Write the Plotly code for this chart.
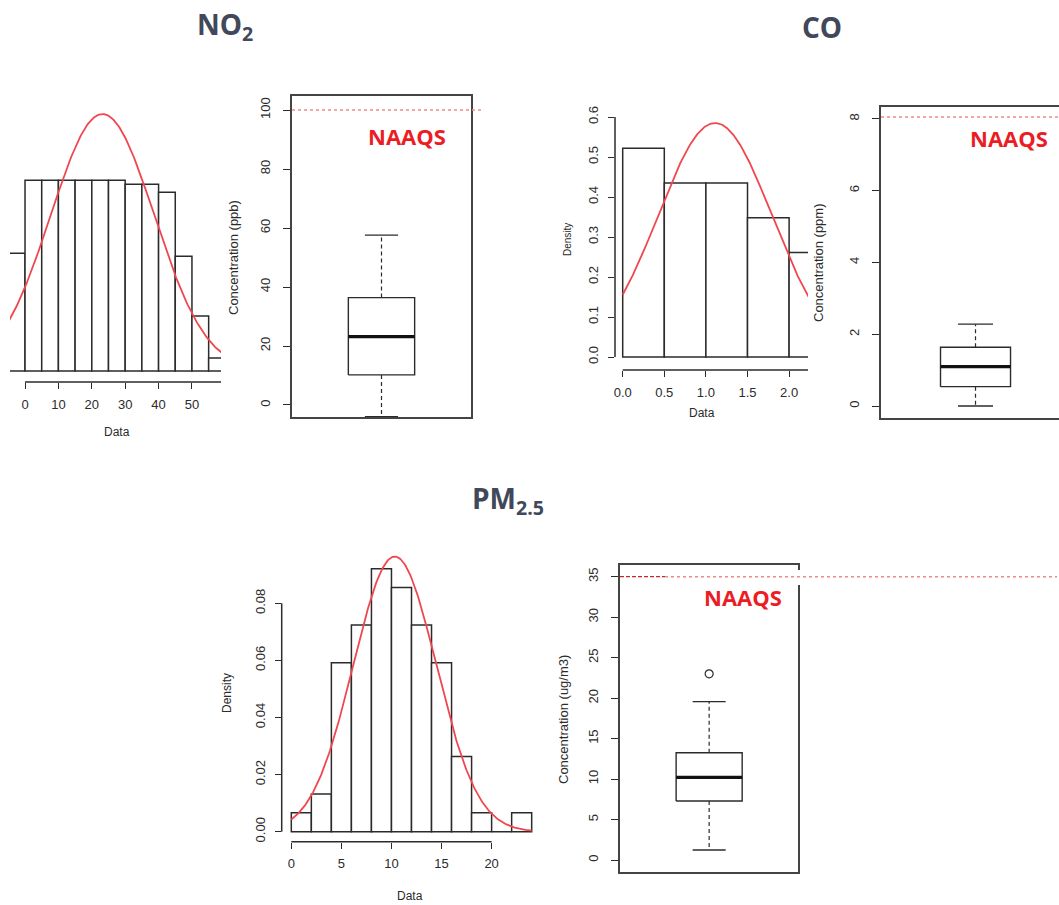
import numpy as np
import plotly.graph_objects as go

W, H = 1059, 905

# ---------------- data ----------------
# NO2 (ppb): histogram densities per 5-ppb bin, normal fit, box statistics
no2_edges = [-5, 0, 5, 10, 15, 20, 25, 30, 35, 40, 45, 50, 55, 60]
no2_density = [0.0118, 0.0191, 0.0191, 0.0191, 0.0191, 0.0191, 0.0191,
               0.0187, 0.0187, 0.0179, 0.0115, 0.0055, 0.0013]
no2_mean, no2_sd = 23.2, 15.5
no2_curve_span = [-5, 60]
no2_box = {"lo": -4.0, "q1": 10.2, "med": 23.2, "q3": 36.4, "hi": 57.6}
no2_outliers = []
no2_naaqs = 100

# CO (ppm)
co_edges = [0.0, 0.5, 1.0, 1.5, 2.0, 2.5]
co_density = [0.522, 0.435, 0.435, 0.348, 0.261]
co_mean, co_sd = 1.11, 0.682
co_curve_span = [0.0, 2.5]
co_box = {"lo": 0.0, "q1": 0.54, "med": 1.095, "q3": 1.635, "hi": 2.28}
co_outliers = []
co_naaqs = 8.05

# PM2.5 (ug/m3)
pm_edges = [0, 2, 4, 6, 8, 10, 12, 14, 16, 18, 20, 22, 24]
pm_density = [0.0066, 0.0132, 0.0592, 0.0724, 0.0921, 0.0855,
              0.0724, 0.0592, 0.0263, 0.0066, 0.0, 0.0066]
pm_mean, pm_sd = 10.33, 4.14
pm_curve_span = [0, 24]
pm_box = {"lo": 1.24, "q1": 7.29, "med": 10.21, "q3": 13.25, "hi": 19.56}
pm_outliers = [23.0]
pm_naaqs = 35

# tick labels
no2_hist_xticks = [0, 10, 20, 30, 40, 50]
no2_box_yticks = [0, 20, 40, 60, 80, 100]
co_hist_xticks = [0.0, 0.5, 1.0, 1.5, 2.0]
co_hist_yticks = [0.0, 0.1, 0.2, 0.3, 0.4, 0.5, 0.6]
co_box_yticks = [0, 2, 4, 6, 8]
pm_hist_xticks = [0, 5, 10, 15, 20]
pm_hist_yticks = [0.00, 0.02, 0.04, 0.06, 0.08]
pm_box_yticks = [0, 5, 10, 15, 20, 25, 30, 35]

# ---------------- layout geometry (pixels) ----------------
INK = "#2b2b2b"
FRAME = "#444444"
RFONT = "Liberation Sans"
TFONT = "Open Sans"

# panel: (x0, x1) px, (ytop, ybottom) px, xrange, yrange
panels = {
    1: dict(px=(10, 221), py=(100, 382), xr=[-4.5, 58.7], yr=[-0.0011, 0.02714]),
    2: dict(px=(292, 471), py=(96, 417), xr=[0.46, 1.54], yr=[-4.07, 104.75]),
    3: dict(px=(615, 808), py=(100, 370), xr=[-0.0925, 2.227], yr=[-0.0325, 0.6425]),
    4: dict(px=(881, 1059), py=(107, 418), xr=[0.46, 1.477], yr=[-0.334, 8.33]),
    5: dict(px=(281.7, 541.3), py=(545.6, 841.7), xr=[-0.96, 24.96], yr=[-0.0035, 0.1002]),
    6: dict(px=(620, 798.3), py=(565, 871.7), xr=[0.46, 1.54], yr=[-1.445, 36.44]),
}


def xdom(p):
    return [p["px"][0] / W, p["px"][1] / W]


def ydom(p):
    return [1 - p["py"][1] / H, 1 - p["py"][0] / H]


def to_paper_x(i, v):
    p = panels[i]
    d = xdom(p)
    r = p["xr"]
    return d[0] + (v - r[0]) / (r[1] - r[0]) * (d[1] - d[0])


def to_paper_y(i, v):
    p = panels[i]
    d = ydom(p)
    r = p["yr"]
    return d[0] + (v - r[0]) / (r[1] - r[0]) * (d[1] - d[0])


def ax_names(i):
    s = "" if i == 1 else str(i)
    return "x" + s, "y" + s, "xaxis" + s, "yaxis" + s


fig = go.Figure()


def add_hist(i, edges, dens, mean, sd, span):
    xa, ya, _, _ = ax_names(i)
    edges = np.asarray(edges, dtype=float)
    centers = (edges[:-1] + edges[1:]) / 2
    widths = np.diff(edges)
    fig.add_trace(go.Bar(
        x=centers, y=dens, width=widths, xaxis=xa, yaxis=ya,
        marker=dict(color="white", line=dict(color=INK, width=1.5)),
        showlegend=False, hoverinfo="skip"))
    xs = np.linspace(span[0], span[1], 300)
    ys = np.exp(-0.5 * ((xs - mean) / sd) ** 2) / (sd * np.sqrt(2 * np.pi))
    fig.add_trace(go.Scatter(
        x=xs, y=ys, mode="lines", xaxis=xa, yaxis=ya,
        line=dict(color="#f0474f", width=1.8), showlegend=False, hoverinfo="skip"))


def add_box(i, st, outliers):
    xa, ya, _, _ = ax_names(i)
    c, hw, cw = 1.0, 0.2, 0.1
    line = dict(color=INK, width=1.4)
    common = dict(xaxis=xa, yaxis=ya, mode="lines", showlegend=False,
                  hoverinfo="skip", cliponaxis=False)
    # box
    fig.add_trace(go.Scatter(
        x=[c - hw, c + hw, c + hw, c - hw, c - hw],
        y=[st["q1"], st["q1"], st["q3"], st["q3"], st["q1"]],
        line=line, **common))
    # whiskers (dashed)
    for a, b in ((st["q3"], st["hi"]), (st["q1"], st["lo"])):
        fig.add_trace(go.Scatter(x=[c, c], y=[a, b],
                                 line=dict(color=INK, width=1.2, dash="4px,3px"), **common))
    # caps
    for v in (st["hi"], st["lo"]):
        fig.add_trace(go.Scatter(x=[c - cw, c + cw], y=[v, v], line=line, **common))
    # median
    fig.add_trace(go.Scatter(x=[c - hw, c + hw], y=[st["med"], st["med"]],
                             line=dict(color="#111111", width=3.2), **common))
    if outliers:
        fig.add_trace(go.Scatter(
            x=[c] * len(outliers), y=outliers, xaxis=xa, yaxis=ya, mode="markers",
            marker=dict(symbol="circle-open", size=8, color=INK, line=dict(width=1.2)),
            showlegend=False, hoverinfo="skip", cliponaxis=False))


add_hist(1, no2_edges, no2_density, no2_mean, no2_sd, no2_curve_span)
add_box(2, no2_box, no2_outliers)
add_hist(3, co_edges, co_density, co_mean, co_sd, co_curve_span)
add_box(4, co_box, co_outliers)
add_hist(5, pm_edges, pm_density, pm_mean, pm_sd, pm_curve_span)
add_box(6, pm_box, pm_outliers)

tickfont = dict(family=RFONT, size=13, color=INK)
layout = dict(
    width=W, height=H, margin=dict(l=0, r=0, t=0, b=0),
    paper_bgcolor="white", plot_bgcolor="rgba(0,0,0,0)",
    barmode="overlay", showlegend=False,
)


def fmt(vals, nd):
    return [f"{v:.{nd}f}" for v in vals]


hist_specs = {
    1: dict(xt=no2_hist_xticks, xtt=fmt(no2_hist_xticks, 0), yt=None),
    3: dict(xt=co_hist_xticks, xtt=fmt(co_hist_xticks, 1), yt=co_hist_yticks, ytt=fmt(co_hist_yticks, 1)),
    5: dict(xt=pm_hist_xticks, xtt=fmt(pm_hist_xticks, 0), yt=pm_hist_yticks, ytt=fmt(pm_hist_yticks, 2)),
}
box_specs = {
    2: dict(yt=no2_box_yticks, mirror=True),
    4: dict(yt=co_box_yticks, mirror=False),
    6: dict(yt=pm_box_yticks, mirror=True),
}

for i, p in panels.items():
    xa, ya, xk, yk = ax_names(i)
    if i in hist_specs:
        s = hist_specs[i]
        layout[xk] = dict(domain=xdom(p), range=p["xr"], anchor=ya, showline=False,
                          showgrid=False, zeroline=False, ticks="outside", ticklen=6,
                          tickwidth=1.3, tickcolor=INK, tickvals=s["xt"], ticktext=s["xtt"],
                          tickfont=tickfont, ticklabelstandoff=4, fixedrange=True)
        if s["yt"] is None:
            layout[yk] = dict(domain=ydom(p), range=p["yr"], anchor=xa, visible=False,
                              fixedrange=True)
        else:
            layout[yk] = dict(domain=ydom(p), range=p["yr"], anchor=xa, showline=False,
                              showgrid=False, zeroline=False, ticks="outside", ticklen=6,
                              tickwidth=1.3, tickcolor=INK, tickvals=s["yt"], ticktext=s["ytt"],
                              tickangle=-90, tickfont=tickfont, ticklabelstandoff=5,
                              fixedrange=True)
    else:
        s = box_specs[i]
        layout[xk] = dict(domain=xdom(p), range=p["xr"], anchor=ya, showline=True,
                          mirror=True, linecolor=FRAME, linewidth=1.5, showgrid=False,
                          zeroline=False, showticklabels=False, ticks="", fixedrange=True)
        layout[yk] = dict(domain=ydom(p), range=p["yr"], anchor=xa, showline=True,
                          mirror=s["mirror"], linecolor=FRAME, linewidth=1.5, showgrid=False,
                          zeroline=False, ticks="outside", ticklen=7, tickwidth=1.3,
                          tickcolor=INK, tickvals=s["yt"], tickangle=-90, tickfont=tickfont,
                          ticklabelstandoff=8, fixedrange=True)

fig.update_layout(**layout)

# ---------------- axis lines of the histograms (R style: span first..last tick) ----------------
shapes = []


def seg(x0, y0, x1, y1, color=INK, width=1.5, dash="solid"):
    shapes.append(dict(type="line", xref="paper", yref="paper", x0=x0, y0=y0, x1=x1, y1=y1,
                       line=dict(color=color, width=width, dash=dash), layer="above"))


for i, xt_last in ((1, 60), (3, 2.5), (5, 20)):
    p = panels[i]
    xv0 = hist_specs[i]["xt"][0]
    xv1 = min(xt_last, p["xr"][1])
    yb = ydom(p)[0]
    seg(to_paper_x(i, xv0), yb, to_paper_x(i, xv1), yb)
    if hist_specs[i]["yt"] is not None:
        xl = xdom(p)[0]
        yt = hist_specs[i]["yt"]
        seg(xl, to_paper_y(i, yt[0]), xl, to_paper_y(i, yt[-1]))

# frame gap on the PM2.5 box panel, right edge
shapes.append(dict(type="rect", xref="paper", yref="paper",
                   x0=794 / W, x1=802 / W, y0=1 - 585 / H, y1=1 - 570 / H,
                   line=dict(width=0), fillcolor="white", layer="above"))

# NAAQS reference lines
NAAQS_LIGHT = "#f08a8a"
seg(to_paper_x(2, panels[2]["xr"][0]), to_paper_y(2, no2_naaqs), 483 / W, to_paper_y(2, no2_naaqs),
    color=NAAQS_LIGHT, width=1.5, dash="dot")
seg(to_paper_x(4, panels[4]["xr"][0]), to_paper_y(4, co_naaqs), 1.0, to_paper_y(4, co_naaqs),
    color=NAAQS_LIGHT, width=1.5, dash="dot")
seg(to_paper_x(6, panels[6]["xr"][0]), to_paper_y(6, pm_naaqs), 665 / W, to_paper_y(6, pm_naaqs),
    color="#c8282d", width=1.3, dash="4px,2px")
seg(665 / W, to_paper_y(6, pm_naaqs), 1057 / W, to_paper_y(6, pm_naaqs),
    color=NAAQS_LIGHT, width=1.5, dash="dot")

fig.update_layout(shapes=shapes)

# ---------------- text ----------------
ann = []


def text(x, y, s, size, color=INK, family=RFONT, angle=0):
    ann.append(dict(xref="paper", yref="paper", x=x / W, y=1 - y / H, text=s, showarrow=False,
                    xanchor="center", yanchor="middle", textangle=angle,
                    font=dict(family=family, size=size, color=color)))


TITLE = "#404859"
text(225, 26, "<b>NO<sub>2</sub></b>", 28, TITLE, TFONT)
text(822, 27, "<b>CO</b>", 28, TITLE, TFONT)
text(508, 500, "<b>PM<sub>2.5</sub></b>", 28, TITLE, TFONT)

RED = "#ec1c24"
text(407, 136, "<b>NAAQS</b>", 22, RED, TFONT)
text(1009, 138, "<b>NAAQS</b>", 22, RED, TFONT)
text(743, 597, "<b>NAAQS</b>", 22, RED, TFONT)

text(117, 432, "Data", 12)
text(702, 413, "Data", 12)
text(410, 896, "Data", 12)
text(567, 240, "Density", 10, angle=-90)
text(227, 693, "Density", 12, angle=-90)
text(233, 258, "Concentration (ppb)", 13, angle=-90)
text(818, 263, "Concentration (ppm)", 13, angle=-90)
text(563, 720, "Concentration (ug/m3)", 13, angle=-90)

fig.update_layout(annotations=ann)

fig.write_html("out.html")
